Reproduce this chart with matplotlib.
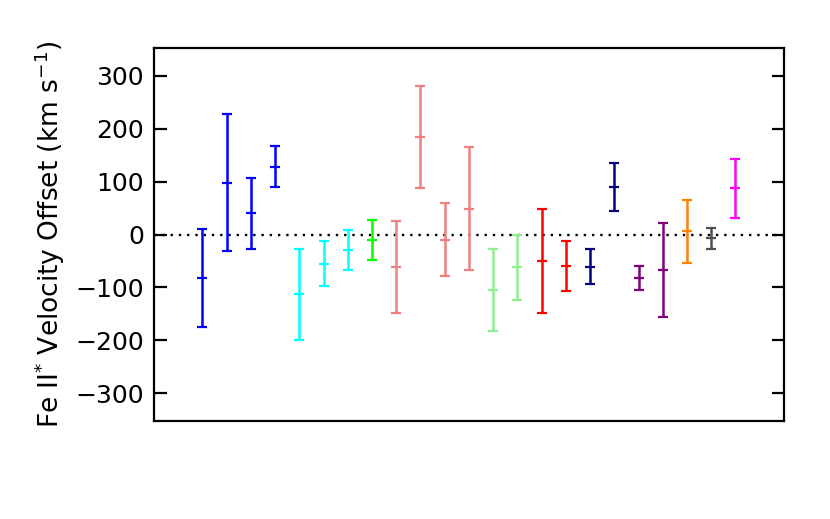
import matplotlib
matplotlib.use("Agg")
import matplotlib.pyplot as plt

# Fe II* velocity offsets per object (km/s)
x_index = list(range(1, 24))
offsets = [-82, 98, 40, 128, -113, -55, -29, -10, -61, 184, -10, 49,
           -105, -62, -50, -60, -61, 90, -82, -67, 6, -7, 87]
errors = [92, 130, 67, 39, 86, 43, 38, 38, 87, 96, 69, 116,
          78, 61, 98, 47, 33, 45, 23, 89, 60, 20, 55]
colors = ["#0000ff", "#0000ff", "#0000ff", "#0000ff",
          "#00ffff", "#00ffff", "#00ffff",
          "#00ff00",
          "#f08080", "#f08080", "#f08080", "#f08080",
          "#90ee90", "#90ee90",
          "#ff0000", "#ff0000",
          "#000080", "#000080",
          "#800080", "#800080",
          "#ff8000",
          "#505050",
          "#ff00ff"]
y_ticks = [-300, -200, -100, 0, 100, 200, 300]
y_tick_labels = ["\u2212300", "\u2212200", "\u2212100", "0", "100", "200", "300"]

plt.rcParams["font.family"] = ["DejaVu Sans"]
plt.rcParams["mathtext.fontset"] = "dejavusans"

fig = plt.figure(figsize=(8.3, 5.19), dpi=100)
ax = fig.add_axes([0.1855, 0.1888, 0.759, 0.7187])

ax.axhline(0, color="black", linestyle=(0, (1, 2.5)), linewidth=1.7, zorder=1)

for xi, v, e, c in zip(x_index, offsets, errors, colors):
    ax.errorbar(xi, v, yerr=e, fmt="_", color=c, ecolor=c, markersize=7.5,
                markeredgewidth=1.6, elinewidth=1.8, capsize=3.5,
                capthick=1.6, zorder=2)

ax.set_xlim(-1, 25)
ax.set_ylim(-352, 352)
ax.set_xticks([])
ax.set_yticks(y_ticks)
ax.set_yticklabels(y_tick_labels)
ax.tick_params(axis="y", direction="in", length=9, width=1.6,
               labelsize=18, left=True, right=True, pad=7)
for s in ax.spines.values():
    s.set_linewidth(1.6)

ax.set_ylabel(r"Fe II$^{*}$ Velocity Offset (km s$^{-1}$)", fontsize=19,
              labelpad=6)

fig.savefig("out.png", dpi=100)
